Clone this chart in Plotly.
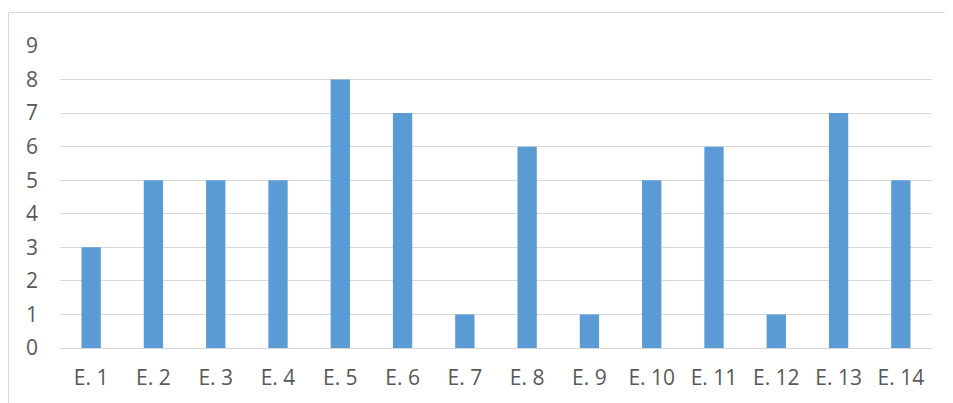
import plotly.graph_objects as go

categories = ["E. 1", "E. 2", "E. 3", "E. 4", "E. 5", "E. 6", "E. 7",
              "E. 8", "E. 9", "E. 10", "E. 11", "E. 12", "E. 13", "E. 14"]
values = [3, 5, 5, 5, 8, 7, 1, 6, 1, 5, 6, 1, 7, 5]
y_ticks = list(range(0, 10))

fig = go.Figure(go.Bar(x=categories, y=values, marker_color="#5B9BD5",
                       marker_line_width=0))

# page has an 8px body margin; figure coords = page coords - 8
W, H = 945, 395
L, R, T, B = 52, 21, 38, 55
pw, ph = W - L - R, H - T - B

def px_x(p):
    return (p - L) / pw

def px_y(p):
    return (H - B - p) / ph

fig.update_layout(
    width=W, height=H,
    margin=dict(l=L, r=R, t=T, b=B),
    paper_bgcolor="white", plot_bgcolor="white",
    bargap=0.69,
    showlegend=False,
    font=dict(family="Open Sans, Liberation Sans, sans-serif", size=21, color="#595959"),
    xaxis=dict(showgrid=False, showline=False, ticks="", ticklabelstandoff=15,
               tickfont=dict(size=21, color="#595959")),
    yaxis=dict(range=[0, 9], tickvals=y_ticks, showgrid=True, gridcolor="#D9D9D9",
               gridwidth=1, zeroline=True, zerolinecolor="#D9D9D9", zerolinewidth=1,
               showline=False, ticks="", ticklabelstandoff=21,
               tickfont=dict(size=21, color="#595959")),
    shapes=[dict(type="rect", xref="paper", yref="paper",
                 x0=px_x(0.5), x1=px_x(1000), y0=px_y(430), y1=px_y(4.5),
                 line=dict(color="#D9D9D9", width=1), fillcolor="rgba(0,0,0,0)",
                 layer="below")],
)

fig.write_html("out.html")
